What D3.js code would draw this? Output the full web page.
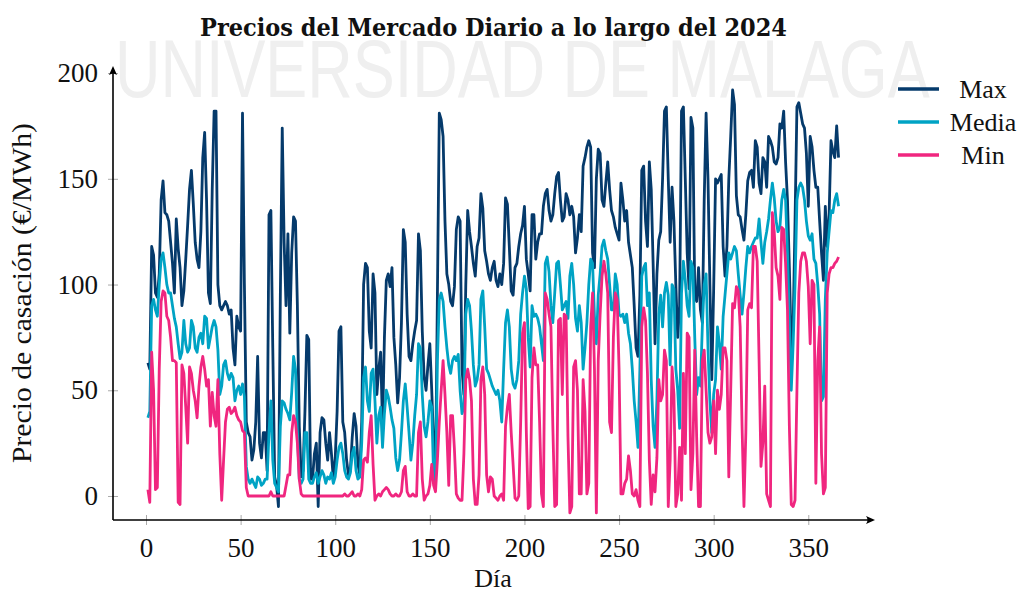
<!DOCTYPE html>
<html><head><meta charset="utf-8">
<script src="https://cdn.jsdelivr.net/npm/d3@7"></script>
<style>body{margin:0;background:#fff}svg{display:block}</style>
</head><body>
<svg id="chart" width="1020" height="594"></svg>
<script>
// Precios del Mercado Diario 2024 (€/MWh), day 1..366
const maxVals = [
63,60,118,114,96,94,105,140,149,134,
133,130,120,110,96,131,117,108,90,97,
112,128,145,154,138,120,112,108,125,160,
172,140,96,91,145,182,182,100,90,88,
90,92,90,86,88,70,62,85,80,78,
181,100,35,30,28,17,22,35,66,25,
18,30,30,12,133,135,70,9,5,-5,
95,174,120,90,124,77,115,132,130,90,
33,9,12,40,76,74,8,8,20,25,
-5,30,37,36,25,17,30,20,8,18,
40,78,80,35,30,17,10,12,28,39,
33,15,10,35,100,110,108,78,70,105,
96,48,60,68,33,75,102,105,99,108,
75,62,44,56,82,126,120,86,66,64,
72,78,83,124,116,78,56,50,62,72,
50,25,8,95,181,178,170,130,105,100,
92,90,99,126,132,130,60,48,100,135,
125,118,110,104,118,122,143,136,116,111,
105,102,108,111,102,99,105,100,110,141,
138,118,97,95,108,110,118,124,128,137,
112,105,97,133,133,112,120,124,124,137,
143,145,135,130,133,143,151,153,140,130,
132,143,140,133,137,132,115,122,133,125,
156,160,165,168,165,115,108,150,164,162,
140,137,148,158,145,135,132,127,124,121,
148,140,130,135,120,114,108,90,70,66,
95,154,156,130,118,158,145,110,72,105,
121,125,150,182,184,150,120,146,130,100,
75,90,182,184,150,115,98,179,174,95,
92,108,88,82,140,181,150,100,55,98,
150,148,150,152,118,104,118,150,170,192,
185,142,133,132,126,121,133,149,153,154,
146,168,165,148,143,160,158,146,170,168,
165,158,157,160,176,174,182,158,140,108,
70,80,130,184,186,181,176,174,162,137,
170,165,154,146,146,130,115,102,137,118,
133,168,163,160,175,160
];
const mediaVals = [
37,40,90,93,88,85,100,112,115,108,
100,96,96,90,84,80,72,65,68,83,
72,68,70,83,80,70,68,75,77,72,
85,84,70,75,80,83,80,69,48,52,
62,64,58,55,58,56,45,50,52,48,
53,47,14,8,6,8,6,4,9,8,
5,6,8,8,30,45,17,6,4,2,
33,45,44,41,39,36,49,66,60,30,
8,6,8,30,30,8,6,6,9,11,
6,9,12,10,6,9,8,11,6,9,
17,23,25,20,12,9,8,11,20,23,
12,8,9,25,56,61,45,40,58,60,
45,25,38,42,23,39,50,47,42,36,
32,18,12,17,30,45,53,42,30,17,
25,38,48,72,70,48,33,28,35,45,
42,9,3,64,93,96,92,80,70,62,
58,64,66,64,67,50,39,42,86,93,
90,78,62,52,55,62,93,97,80,60,
58,55,52,50,48,50,45,35,60,82,
88,80,60,53,51,55,64,86,96,104,
98,75,61,90,85,86,84,80,72,64,
110,113,106,90,82,96,110,111,100,88,
90,92,84,104,110,100,84,78,90,82,
60,70,82,100,112,110,85,72,95,105,
118,121,116,112,100,88,88,105,100,86,
85,86,82,86,77,72,60,45,35,23,
60,104,108,110,90,96,55,33,23,45,
86,95,80,96,101,95,62,100,98,60,
50,32,96,111,102,90,85,111,108,75,
48,56,52,80,100,105,70,45,30,48,
55,80,72,60,85,95,105,115,112,115,
118,116,105,95,86,96,108,118,115,118,
120,122,122,131,120,110,120,125,131,140,
148,141,130,125,127,140,145,140,115,83,
50,72,100,140,146,148,146,140,130,123,
121,124,112,110,100,86,45,47,93,115,
125,135,134,140,143,137
];
const minVals = [
3,-3,68,50,3,4,60,92,97,96,
85,83,75,64,64,63,-3,-4,62,58,
42,25,61,58,50,45,37,52,61,66,
60,52,55,33,49,38,33,55,20,-2,
17,35,41,42,39,40,42,38,36,35,
31,30,4,0,0,0,0,0,0,0,
0,0,0,0,0,2,0,0,0,0,
0,0,0,5,10,10,30,38,35,25,
8,1,0,0,0,0,0,0,0,0,
0,0,0,0,0,0,0,0,0,0,
0,0,0,0,1,0,0,1,2,0,
0,1,0,3,17,18,16,30,38,15,
-2,0,1,0,2,3,4,3,1,0,
0,1,0,0,2,12,14,2,0,0,
1,0,0,30,35,8,-2,0,1,5,
15,5,2,17,35,50,64,48,30,5,
38,38,22,1,-1,-2,-2,20,55,60,
55,45,8,-4,-4,10,55,61,48,10,
2,9,8,0,-1,-2,0,1,-2,33,
42,48,30,15,-1,-2,0,35,77,82,
30,-6,-5,56,70,62,62,35,1,-5,
96,93,86,80,33,-5,-4,83,84,48,
86,85,28,-8,-5,61,64,50,1,1,
55,40,1,6,80,96,60,-8,64,86,
104,111,105,96,35,30,75,96,93,60,
1,1,6,8,19,12,1,0,3,-2,
-5,80,89,83,58,17,-4,10,2,18,
55,45,48,69,64,-5,17,61,48,-5,
1,23,-2,58,20,77,75,3,20,69,
28,-5,-5,64,69,50,30,25,28,45,
20,50,41,48,70,70,64,9,50,91,
89,99,97,80,33,-5,30,88,91,89,
118,118,111,64,14,25,52,1,-2,-5,
134,125,108,104,93,127,126,110,88,33,
-4,-5,-2,50,96,111,115,115,111,99,
72,102,100,6,64,80,20,1,4,96,
105,108,108,110,111,113
];
const dias = maxVals.map((_, i) => i + 1);
const xTicks = [0, 50, 100, 150, 200, 250, 300, 350];
const yTicks = [0, 50, 100, 150, 200];
const seriesNames = ["Max", "Media", "Min"];
const seriesColors = ["#053a6b", "#00a3c4", "#f0267f"];

const svg = d3.select("#chart");
const x = d3.scaleLinear().domain([-17.44, 384.2]).range([113, 873]);
const y = d3.scaleLinear().domain([-11.35, 202.4]).range([520, 68]);
const serif = "'Liberation Serif', 'DejaVu Serif', serif";

// watermark (horizontally condensed via transform)
const wm = svg.append("text")
  .attr("x", 0).attr("y", 0)
  .attr("font-family", "'Liberation Sans', Arial, sans-serif")
  .attr("font-size", 82)
  .attr("fill", "#efefef")
  .text("UNIVERSIDAD DE MALAGA");
const wmW = wm.node().getComputedTextLength() || 1062;
wm.attr("transform", `translate(115,97) scale(${815 / wmW},1)`);

// title
svg.append("text")
  .attr("x", 493.5).attr("y", 36)
  .attr("text-anchor", "middle")
  .attr("font-family", "'DejaVu Serif Condensed', 'DejaVu Serif', serif")
  .attr("font-stretch", "condensed")
  .attr("font-weight", "bold")
  .attr("font-size", 24)
  .attr("fill", "#111")
  .attr("textLength", 587).attr("lengthAdjust", "spacingAndGlyphs")
  .text("Precios del Mercado Diario a lo largo del 2024");

// lines
const series = [maxVals, mediaVals, minVals];
const line = d3.line().x((d, i) => x(dias[i])).y(d => y(d));
series.forEach((vals, k) => {
  svg.append("path")
    .datum(vals)
    .attr("d", line)
    .attr("fill", "none")
    .attr("stroke", seriesColors[k])
    .attr("stroke-width", 2.8)
    .attr("stroke-linejoin", "round");
});

// x axis
const gx = svg.append("g").attr("transform", "translate(0,520)")
  .call(d3.axisBottom(x).tickValues(xTicks).tickSize(5).tickFormat(d3.format("d")));
gx.select(".domain").remove();
gx.selectAll(".tick line").attr("y1", -5).attr("y2", 5).attr("stroke", "#aaa");
gx.selectAll(".tick text").attr("y", 18).attr("font-family", serif).attr("font-size", 27).attr("fill", "#111");

// y axis
const gy = svg.append("g").attr("transform", "translate(113,0)")
  .call(d3.axisLeft(y).tickValues(yTicks).tickSize(5).tickFormat(d3.format("d")));
gy.select(".domain").remove();
gy.selectAll(".tick line").attr("x1", -5).attr("x2", 5).attr("stroke", "#aaa");
gy.selectAll(".tick text").attr("x", -15).attr("font-family", serif).attr("font-size", 27).attr("fill", "#111");

// axis lines with arrows
const [xr0, xr1] = x.range();
const [yr0, yr1] = y.range();
svg.append("line").attr("x1", xr0).attr("y1", yr0).attr("x2", xr1).attr("y2", yr0)
  .attr("stroke", "#000").attr("stroke-width", 1.6);
svg.append("line").attr("x1", xr0).attr("y1", yr0).attr("x2", xr0).attr("y2", yr1)
  .attr("stroke", "#000").attr("stroke-width", 1.6);
svg.append("path")
  .attr("d", `M${xr1 + 2},${yr0} L${xr1 - 7},${yr0 - 4} Q${xr1 - 4},${yr0} ${xr1 - 7},${yr0 + 4} Z`)
  .attr("fill", "#000");
svg.append("path")
  .attr("d", `M${xr0},${yr1 - 2} L${xr0 - 4},${yr1 + 7} Q${xr0},${yr1 + 4} ${xr0 + 4},${yr1 + 7} Z`)
  .attr("fill", "#000");

// axis labels
svg.append("text")
  .attr("x", 493).attr("y", 587)
  .attr("text-anchor", "middle")
  .attr("font-family", serif).attr("font-size", 26).attr("fill", "#111")
  .text("Día");
svg.append("text")
  .attr("transform", "translate(31,293) rotate(-90)")
  .attr("text-anchor", "middle")
  .attr("font-family", serif).attr("font-size", 27).attr("fill", "#111")
  .attr("textLength", 340).attr("lengthAdjust", "spacingAndGlyphs")
  .text("Precio de casación (€/MWh)");

// legend
const legY = [89, 122, 155];
seriesNames.forEach((name, k) => {
  svg.append("line")
    .attr("x1", 898).attr("x2", 939)
    .attr("y1", legY[k]).attr("y2", legY[k])
    .attr("stroke", seriesColors[k]).attr("stroke-width", 3.6);
  svg.append("text")
    .attr("x", 983).attr("y", legY[k] + 9)
    .attr("text-anchor", "middle")
    .attr("font-family", serif).attr("font-size", 26).attr("fill", "#111")
    .text(name);
});
</script>
</body></html>
